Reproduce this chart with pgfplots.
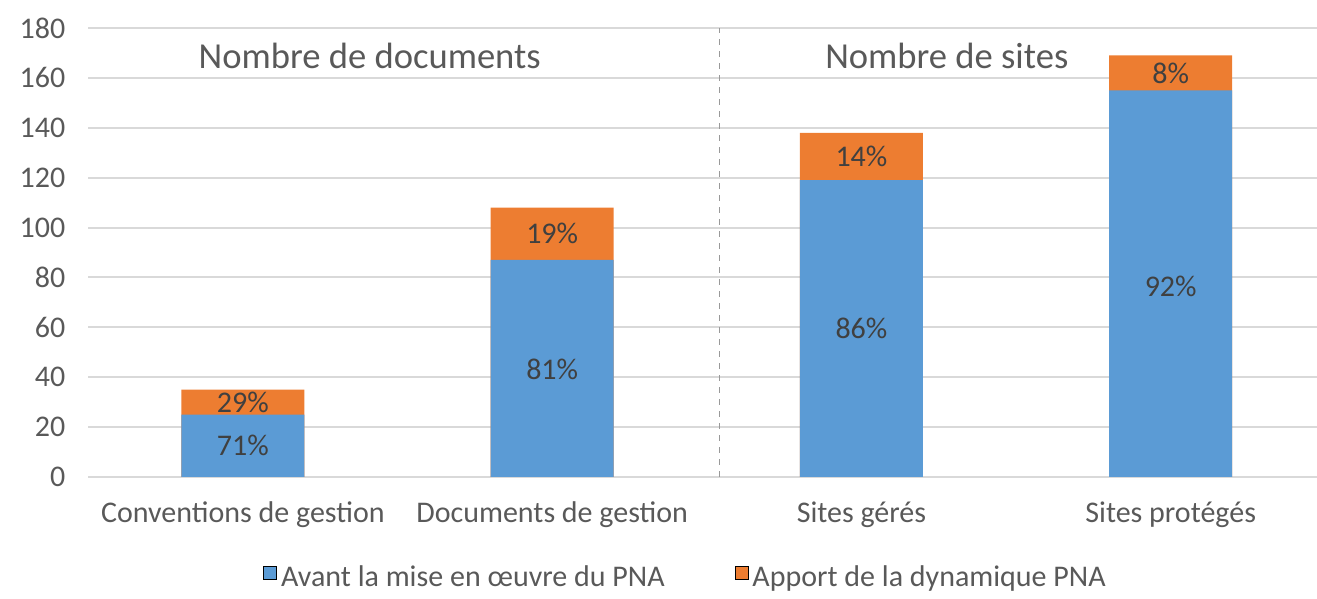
\documentclass[border=0pt]{standalone}
\usepackage{pgfplots}
\pgfplotsset{compat=1.18}
\usepackage{fontspec}
\setmainfont{Carlito}
\definecolor{pnablue}{HTML}{5B9BD5}
\definecolor{pnaorange}{HTML}{ED7D31}
\definecolor{txtgray}{HTML}{595959}
\definecolor{lblgray}{HTML}{404040}
\definecolor{gridgray}{HTML}{D9D9D9}
\begin{document}
\begin{tikzpicture}
\begin{axis}[
  scale only axis, width=618.5pt, height=224.5pt,
  xmin=-0.5, xmax=3.5, ymin=0, ymax=180,
  ytick={0,20,...,180},
  xtick={0,1,2,3},
  xticklabels={Conventions de gestion, Documents de gestion, Sites gérés, Sites protégés},
  axis line style={draw=none},
  major tick length=0pt,
  ymajorgrids, grid style={gridgray, line width=1pt},
  tick label style={font=\fontsize{15}{17}\selectfont, text=txtgray},
  xticklabel style={yshift=-9pt},
  yticklabel style={xshift=-8pt},
  /pgf/number format/assume math mode=true,
  legend image code/.code={\fill[#1] (0pt,-0.5pt) rectangle (6.5pt,6pt);},
  legend style={at={(0.1412,-0.225)}, anchor=west, draw=none, fill=none,
    inner xsep=0pt,
    legend columns=2, font=\fontsize{15}{17}\selectfont, text=txtgray,
    /tikz/every even column/.append style={column sep=33pt}},
  clip=false,
]
\addplot[ybar, bar width=61.5pt, bar shift=0pt, fill=pnaorange, draw=none, forget plot]
  coordinates {(0,35) (1,108) (2,138) (3,169)};
\addplot[ybar, bar width=61.5pt, bar shift=0pt, fill=pnablue, draw=none, forget plot]
  coordinates {(0,25) (1,87) (2,119) (3,155)};
\addplot[only marks, mark=none, draw=none, forget plot, nodes near coords,
  point meta=explicit symbolic,
  nodes near coords style={anchor=center, font=\fontsize{15}{17}\selectfont, text=lblgray}]
  coordinates {(0,12.5) [71\%] (0,30) [29\%] (1,43) [81\%] (1,97.5) [19\%]
               (2,59.5) [86\%] (2,128.5) [14\%] (3,76.5) [92\%] (3,162) [8\%]};
\addlegendimage{fill=pnablue}
\addlegendentry{Avant la mise en œuvre du PNA}
\addlegendimage{fill=pnaorange}
\addlegendentry{Apport de la dynamique PNA}
\draw[dashed, gray!80, line width=0.6pt] (axis cs:1.54,0) -- (axis cs:1.54,180);
\node[font=\fontsize{18.3}{20}\selectfont, text=txtgray] at (axis cs:0.41,169) {Nombre de documents};
\node[font=\fontsize{18.3}{20}\selectfont, text=txtgray] at (axis cs:2.276,169) {Nombre de sites};
\end{axis}
\pgfresetboundingbox
\path[use as bounding box] (-44.15pt,-61pt) rectangle (614.35pt,238.5pt);
\end{tikzpicture}
\end{document}
